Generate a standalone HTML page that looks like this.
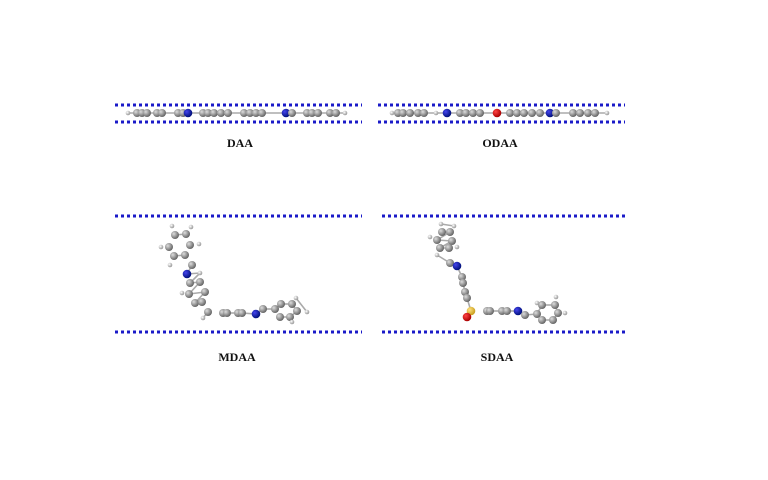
<!DOCTYPE html>
<html><head><meta charset="utf-8"><style>
html,body{margin:0;padding:0;background:#fff;width:768px;height:480px;overflow:hidden}
svg{display:block}
text{font-family:"Liberation Serif",serif;font-weight:bold;font-size:12px;fill:#111}
</style></head><body>
<svg id="s" width="768" height="480" viewBox="0 0 768 480" xmlns="http://www.w3.org/2000/svg">
<defs>
<radialGradient id="g" cx="35%" cy="35%" r="65%"><stop offset="0" stop-color="#ddd"/><stop offset="1" stop-color="#666"/></radialGradient>
<radialGradient id="b" cx="35%" cy="35%" r="65%"><stop offset="0" stop-color="#44e"/><stop offset="1" stop-color="#00107a"/></radialGradient>
<radialGradient id="r" cx="35%" cy="35%" r="65%"><stop offset="0" stop-color="#f44"/><stop offset="1" stop-color="#a00"/></radialGradient>
<radialGradient id="y" cx="35%" cy="35%" r="65%"><stop offset="0" stop-color="#ffe080"/><stop offset="1" stop-color="#c9a020"/></radialGradient>
<radialGradient id="h" cx="35%" cy="35%" r="65%"><stop offset="0" stop-color="#fff"/><stop offset="1" stop-color="#999"/></radialGradient>
</defs>
<g stroke="#1a1ac8" stroke-width="3" stroke-dasharray="3,3">
<line x1="115" y1="105" x2="362" y2="105"/><line x1="115" y1="122" x2="362" y2="122"/>
<line x1="378" y1="105" x2="625" y2="105"/><line x1="378" y1="122" x2="625" y2="122"/>
<line x1="115" y1="216" x2="362" y2="216"/><line x1="115" y1="332" x2="362" y2="332"/>
<line x1="382" y1="216" x2="628" y2="216"/><line x1="382" y1="332" x2="628" y2="332"/>
</g>
<g id="m"></g>
<text x="240" y="147" text-anchor="middle">DAA</text>
<text x="500" y="147" text-anchor="middle">ODAA</text>
<text x="237" y="361" text-anchor="middle">MDAA</text>
<text x="497" y="361" text-anchor="middle">SDAA</text>
</svg>
<script>
var m=document.getElementById('m'),s='';
function A(x,y,t){var r={g:4,b:4.3,r:4.3,y:4.3,h:2.3}[t];s+='<circle cx="'+x+'" cy="'+y+'" r="'+r+'" fill="url(#'+t+')"/>';}
function L(x1,y1,x2,y2){s+='<line x1="'+x1+'" y1="'+y1+'" x2="'+x2+'" y2="'+y2+'" stroke="#aaa" stroke-width="1.6"/>';}
L(128,113,345,113);L(392,113,607,113);
[[128,'h'],[137,'g'],[142,'g'],[147,'g'],[157,'g'],[162,'g'],[178,'g'],[183,'g'],[188,'b'],[203,'g'],[208,'g'],[214,'g'],[221,'g'],[228,'g'],[244,'g'],[250,'g'],[256,'g'],[262,'g'],[286,'b'],[292,'g'],[307,'g'],[312,'g'],[318,'g'],[330,'g'],[336,'g'],[345,'h']].forEach(function(a){A(a[0],113,a[1]);});
[[392,'h'],[398,'g'],[403,'g'],[410,'g'],[418,'g'],[424,'g'],[436,'h'],[447,'b'],[460,'g'],[466,'g'],[473,'g'],[480,'g'],[497,'r'],[510,'g'],[517,'g'],[524,'g'],[532,'g'],[540,'g'],[550,'b'],[556,'g'],[573,'g'],[580,'g'],[588,'g'],[595,'g'],[607,'h']].forEach(function(a){A(a[0],113,a[1]);});
var md=[[175,235,'g'],[186,234,'g'],[169,247,'g'],[190,245,'g'],[174,256,'g'],[185,255,'g'],[172,226,'h'],[191,227,'h'],[161,247,'h'],[199,244,'h'],[170,265,'h'],[192,265,'g'],[187,274,'b'],[200,273,'h'],[190,283,'g'],[200,282,'g'],[189,294,'g'],[205,292,'g'],[195,303,'g'],[202,302,'g'],[182,293,'h'],[208,312,'g'],[203,318,'h'],[223,313,'g'],[227,313,'g'],[238,313,'g'],[242,313,'g'],[256,314,'b'],[263,309,'g'],[275,309,'g'],[281,304,'g'],[292,304,'g'],[297,311,'g'],[290,317,'g'],[280,317,'g'],[307,312,'h'],[296,298,'h'],[292,322,'h']];
var sd=[[442,232,'g'],[450,232,'g'],[437,240,'g'],[452,241,'g'],[440,248,'g'],[449,248,'g'],[441,224,'h'],[454,226,'h'],[430,237,'h'],[457,247,'h'],[437,255,'h'],[450,263,'g'],[457,266,'b'],[462,277,'g'],[463,283,'g'],[465,292,'g'],[467,298,'g'],[471,311,'y'],[467,317,'r'],[487,311,'g'],[490,311,'g'],[502,311,'g'],[507,311,'g'],[518,311,'b'],[525,315,'g'],[537,314,'g'],[542,305,'g'],[555,305,'g'],[558,313,'g'],[553,320,'g'],[542,320,'g'],[565,313,'h'],[537,303,'h'],[556,297,'h']];
function chain(arr){for(var i=1;i<arr.length;i++){var a=arr[i-1],b=arr[i];if(Math.hypot(a[0]-b[0],a[1]-b[1])<18)L(a[0],a[1],b[0],b[1]);}arr.forEach(function(a){A(a[0],a[1],a[2]);});}
chain(md);chain(sd);
m.innerHTML=s;
</script>
</body></html>
